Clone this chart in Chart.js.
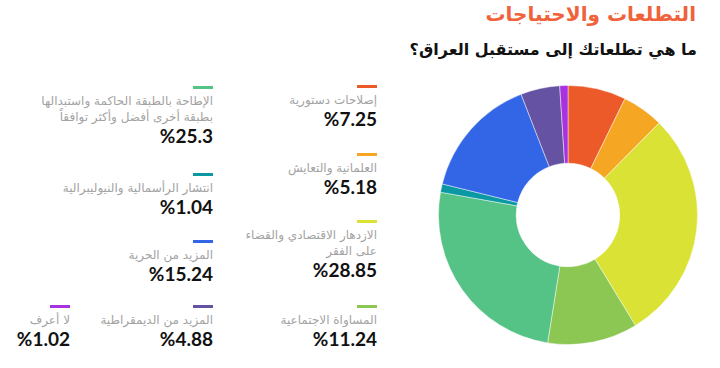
<!DOCTYPE html>
<html lang="ar" dir="rtl">
<head>
<meta charset="utf-8">
<script src="https://cdn.jsdelivr.net/npm/chart.js@4.4.1/dist/chart.umd.min.js"></script>
<style>
  html, body { margin:0; padding:0; background:#fff; }
  body { width:720px; height:368px; position:relative; overflow:hidden; font-family:"DejaVu Sans", sans-serif; }
  #title { position:absolute; right:24px; top:0px; font-size:20px; font-weight:bold; color:#F0623A; white-space:nowrap; line-height:28px; }
  #subtitle { position:absolute; right:23px; top:38px; font-size:16px; font-weight:bold; color:#111; white-space:nowrap; line-height:24px; }
  #chartBox { position:absolute; left:438px; top:85px; width:260px; height:260px; }
  .item { position:absolute; text-align:right; direction:rtl; }
  .bar { width:20px; height:3px; margin-right:0; margin-left:auto; }
  .lab { margin-top:4px; font-size:12px; line-height:16px; color:#a3a3a3; white-space:pre-line; }
  .val { font-size:19px; line-height:22px; font-weight:bold; color:#111; font-family:"Lato","DejaVu Sans",sans-serif; direction:ltr; text-align:right; }
</style>
</head>
<body>
<div id="title">التطلعات والاحتياجات</div>
<div id="subtitle">ما هي تطلعاتك إلى مستقبل العراق؟</div>
<div id="chartBox"><canvas id="c"></canvas></div>
<div id="legend"></div>
<script>
// ---- data ----
const categories = [
  "إصلاحات دستورية",
  "العلمانية والتعايش",
  "الازدهار الاقتصادي والقضاء\nعلى الفقر",
  "المساواة الاجتماعية",
  "الإطاحة بالطبقة الحاكمة واستبدالها\nبطبقة أخرى أفضل وأكثر توافقاً",
  "انتشار الرأسمالية والنيوليبرالية",
  "المزيد من الحرية",
  "المزيد من الديمقراطية",
  "لا أعرف"
];
const values = [7.25, 5.18, 28.85, 11.24, 25.3, 1.04, 15.24, 4.88, 1.02];
const valueLabels = ["7.25", "5.18", "28.85", "11.24", "25.3", "1.04", "15.24", "4.88", "1.02"];
const colors = ["#EC5A2A", "#F5A623", "#DAE236", "#8CC653", "#55C385", "#0A98A2", "#3366E6", "#6652A3", "#A832E0"];

// ---- layout (positions of legend entries: right offset, top y) ----
const slots = [
  [343, 85], [343, 153], [343, 220], [343, 305],
  [507, 86], [507, 173], [507, 240], [507, 305],
  [650, 305]
];

const legend = document.getElementById('legend');
categories.forEach((cat, i) => {
  const d = document.createElement('div');
  d.className = 'item';
  d.style.right = slots[i][0] + 'px';
  d.style.top = slots[i][1] + 'px';
  const b = document.createElement('div'); b.className = 'bar'; b.style.background = colors[i];
  const l = document.createElement('div'); l.className = 'lab'; l.textContent = cat;
  const v = document.createElement('div'); v.className = 'val'; v.textContent = '%' + valueLabels[i];
  d.appendChild(b); d.appendChild(l); d.appendChild(v);
  legend.appendChild(d);
});

new Chart(document.getElementById('c'), {
  type: 'doughnut',
  data: {
    labels: categories,
    datasets: [{
      data: values,
      backgroundColor: colors,
      borderColor: 'rgba(255,255,255,0.45)',
      borderWidth: 1
    }]
  },
  options: {
    responsive: true,
    maintainAspectRatio: false,
    animation: false,
    cutout: '40%',
    layout: { padding: 0 },
    plugins: { legend: { display: false }, tooltip: { enabled: false } }
  }
});
</script>
</body>
</html>
